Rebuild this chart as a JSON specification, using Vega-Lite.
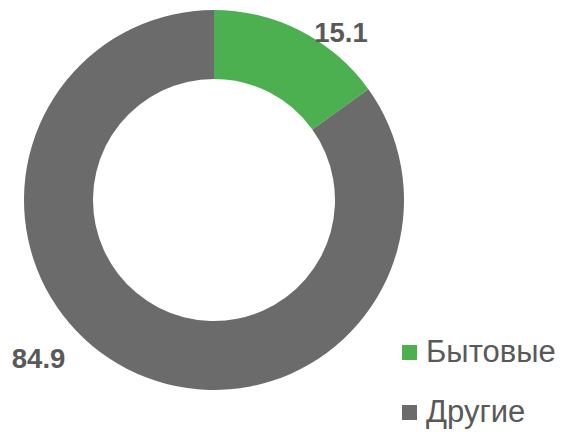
{
  "$schema": "https://vega.github.io/schema/vega-lite/v6.json",
  "autosize": {"type": "none"},
  "width": 428,
  "height": 400,
  "padding": {"left": 0, "top": 0, "right": 134, "bottom": 32},
  "background": "white",
  "config": {"view": {"stroke": null}, "font": "Liberation Sans"},
  "data": {"values": [
    {"category": "Бытовые", "value": 15.1},
    {"category": "Другие", "value": 84.9}
  ]},
  "encoding": {
    "theta": {"field": "value", "type": "quantitative", "stack": true},
    "color": {
      "field": "category", "type": "nominal",
      "scale": {"domain": ["Бытовые", "Другие"], "range": ["#4CAF50", "#6B6B6B"]},
      "legend": {
        "title": null, "orient": "none", "legendX": 394, "legendY": 337,
        "symbolType": "square", "symbolSize": 225, "symbolStrokeWidth": 0,
        "labelFontSize": 31, "labelColor": "#595959", "labelFont": "Liberation Sans",
        "labelOffset": 1, "rowPadding": 28, "padding": 0
      }
    }
  },
  "layer": [
    {"mark": {"type": "arc", "outerRadius": 190, "innerRadius": 121}},
    {
      "transform": [{"filter": "datum.category === 'Бытовые'"}],
      "mark": {"type": "text", "radius": 208.6, "thetaOffset": 0.18, "fontSize": 27.5, "fontWeight": "bold", "color": "#595959", "align": "center", "baseline": "middle"},
      "encoding": {"text": {"field": "value", "type": "quantitative", "format": ".1f"}, "color": {"value": "#595959"}}
    },
    {
      "transform": [{"filter": "datum.category === 'Другие'"}],
      "mark": {"type": "text", "radius": 237.5, "thetaOffset": 1.3055, "fontSize": 27.5, "fontWeight": "bold", "color": "#595959", "align": "center", "baseline": "middle"},
      "encoding": {"text": {"field": "value", "type": "quantitative", "format": ".1f"}, "color": {"value": "#595959"}}
    }
  ]
}
